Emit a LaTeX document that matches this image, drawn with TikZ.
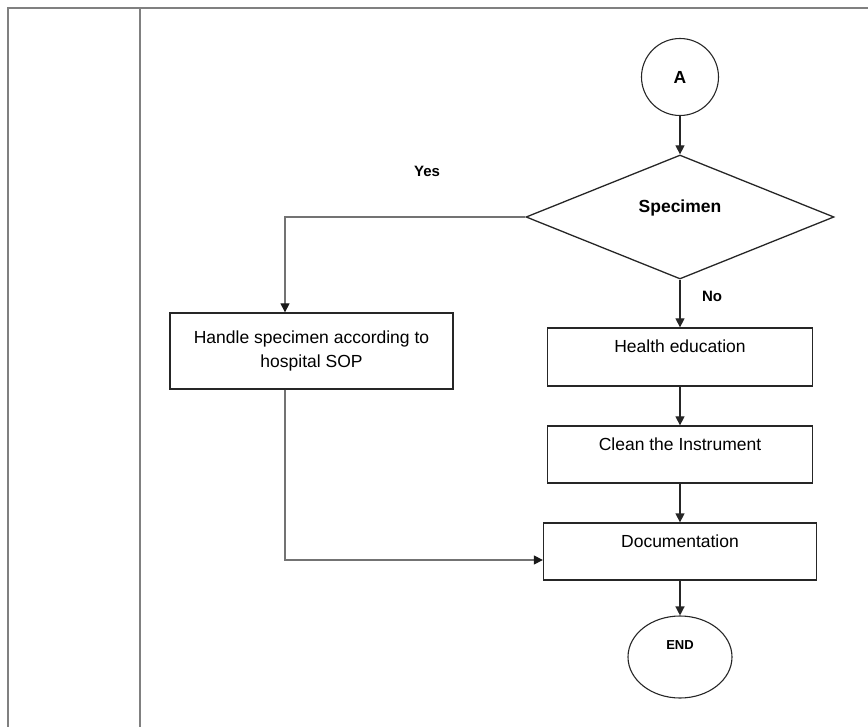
\documentclass[tikz,border=0pt]{standalone}
\usepackage{fontspec}
\setmainfont{Liberation Sans}
\usetikzlibrary{arrows.meta, positioning, shapes.geometric}

\begin{document}
\begin{tikzpicture}[x=1pt, y=-1pt,
    every node/.style={font=\fontsize{17.5}{24}\selectfont},
    boldtxt/.style={font=\fontsize{17.5}{24}\selectfont\bfseries},
    arr/.style={-{Triangle[length=9pt,width=9pt]}, line width=1.3pt, draw=black!85},
    thinarr/.style={-{Triangle[length=9pt,width=9pt,color=black!90]}, line width=1.2pt, draw=black!55},
    box/.style={draw=black!85, line width=1.3pt, rectangle, align=center, inner sep=0pt},
    textup/.style={text height=13pt, text depth=21pt}]

    % page frame
    \useasboundingbox (0,0) rectangle (868,727);
    \draw[gray, line width=2pt] (868,8) -- (8,8) -- (8,727);
    \draw[gray, line width=2pt] (140,8) -- (140,727);

    % connector and decision
    \node[circle, draw=black!85, line width=1.1pt, minimum size=77pt, inner sep=0pt, boldtxt] (conA) at (680,77) {A};
    \node[diamond, draw=black!85, line width=1.3pt, minimum width=308pt, minimum height=124pt, inner sep=0pt, boldtxt, textup] (spec) at (680,217) {Specimen};

    % No branch
    \node[box, textup, minimum width=265pt, minimum height=58pt] (health) at (680,357) {Health education};
    \node[box, textup, minimum width=265pt, minimum height=57pt] (clean) at (680,454.5) {Clean the Instrument};
    \node[box, textup, minimum width=273pt, minimum height=57pt] (doc) at (680,551.5) {Documentation};
    \node[ellipse, draw=black!85, line width=1.1pt, minimum width=104pt, minimum height=82pt, inner sep=0pt,
          font=\fontsize{13}{16}\selectfont\bfseries, text height=10pt, text depth=25pt] (fin) at (680,657) {END};

    % Yes branch
    \node[box, minimum width=283pt, minimum height=76pt] (handle) at (311.5,351) {Handle specimen according to\\hospital SOP};

    % labels
    \node[font=\fontsize{15}{18}\selectfont\bfseries] (yes) at (427,171) {Yes};
    \node[font=\fontsize{15}{18}\selectfont\bfseries] (no) at (712,296) {No};

    % arrows
    \draw[arr] (conA) -- (spec);
    \draw[arr] (spec) -- (health);
    \draw[arr] (health) -- (clean);
    \draw[arr] (clean) -- (doc);
    \draw[arr] (doc) -- (fin);
    \coordinate (bend) at (285,217);
    \draw[thinarr] (spec.west) -- (bend) -- (bend |- handle.north);
    \draw[thinarr] (bend |- handle.south) |- ([yshift=-8.5pt]doc.west);
\end{tikzpicture}
\end{document}
